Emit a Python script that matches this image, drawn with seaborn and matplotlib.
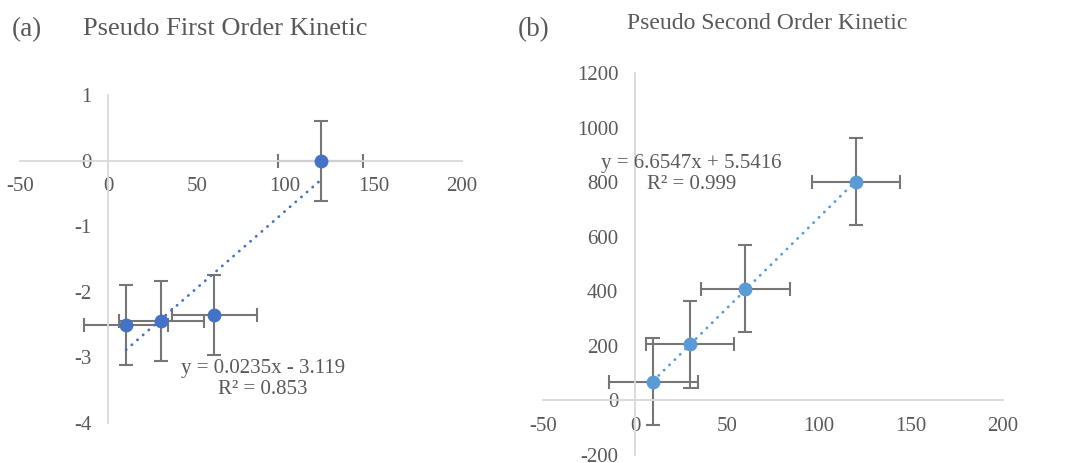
import numpy as np
import pandas as pd
import matplotlib
matplotlib.use("Agg")
import matplotlib.pyplot as plt
import seaborn as sns

# Contact time (min)
time_min = [10, 30, 60, 120]

# Pseudo first order: log(qe - qt)
pfo_y = [-2.51, -2.44, -2.356, 0.0]
pfo_slope, pfo_intercept = 0.0235, -3.119
pfo_r2 = 0.853

# Pseudo second order: t/qt
pso_y = [69.0, 205.0, 410.0, 802.2]
pso_slope, pso_intercept = 6.6547, 5.5416
pso_r2 = 0.999

x_ticks = [-50, 0, 50, 100, 150, 200]
pfo_y_ticks = [-4, -3, -2, -1, 0, 1]
pso_y_ticks = [-200, 0, 200, 400, 600, 800, 1000, 1200]

sns.set_theme(style="white")
plt.rcParams["font.family"] = ["Liberation Serif", "DejaVu Serif"]
plt.rcParams["axes.unicode_minus"] = False

TEXT = "#595959"
AXIS = "#D9D9D9"
ERR = "#767676"


def std_err(v):
    v = np.asarray(v, dtype=float)
    return v.std(ddof=1) / np.sqrt(len(v))


def draw_panel(ax, y, color, slope, intercept, r2, yticks, eq_pos):
    df = pd.DataFrame({"t": time_min, "y": y})
    xerr = std_err(df["t"])
    yerr = std_err(df["y"])
    ax.errorbar(df["t"], df["y"], xerr=xerr, yerr=yerr, fmt="none",
                ecolor=ERR, elinewidth=1.5, capsize=5, capthick=1.5, zorder=2)
    sns.scatterplot(data=df, x="t", y="y", ax=ax, color=color, s=100,
                    edgecolor=color, linewidth=0, zorder=3)
    # linear trendline over the sampled time range
    tx = np.array([min(time_min), max(time_min)], dtype=float)
    ax.plot(tx, slope * tx + intercept, color=color, lw=2.0,
            linestyle=(0, (0.1, 2.6)), dash_capstyle="round", zorder=4)
    sign = "+" if intercept >= 0 else "-"
    ax.text(eq_pos[0], eq_pos[1],
            f"y = {slope:g}x {sign} {abs(intercept):g}\nR² = {r2:.3f}",
            ha="center", va="center", multialignment="center",
            fontsize=15, color=TEXT, linespacing=1.15, zorder=5)

    ax.set_xlim(x_ticks[0], x_ticks[-1])
    ax.set_ylim(yticks[0], yticks[-1])
    ax.set_xticks(x_ticks)
    ax.set_yticks(yticks)
    ax.spines["left"].set_position(("data", 0))
    ax.spines["bottom"].set_position(("data", 0))
    for s in ("top", "right"):
        ax.spines[s].set_visible(False)
    for s in ("left", "bottom"):
        ax.spines[s].set_color(AXIS)
        ax.spines[s].set_linewidth(1.3)
    ax.tick_params(axis="both", length=0, labelsize=15, labelcolor=TEXT)
    ax.tick_params(axis="x", pad=12)
    ax.tick_params(axis="y", pad=12)
    ax.set_xlabel("")
    ax.set_ylabel("")
    ax.grid(False)
    ax.set_facecolor("none")


fig = plt.figure(figsize=(10.72, 4.63), dpi=100)
ax_a = fig.add_axes([20 / 1072, 1 - 423 / 463, 442 / 1072, 328 / 463])
ax_b = fig.add_axes([543 / 1072, 1 - 455 / 463, 460 / 1072, 382 / 463])

draw_panel(ax_a, pfo_y, "#4472C4", pfo_slope, pfo_intercept, pfo_r2,
           pfo_y_ticks, (87.5, -3.33))
draw_panel(ax_b, pso_y, "#5B9BD5", pso_slope, pso_intercept, pso_r2,
           pso_y_ticks, (30.6, 830))

fig.text(12 / 1072, 1 - 36 / 463, "(a)", fontsize=19.5, color=TEXT,
         ha="left", va="baseline")
fig.text(225 / 1072, 1 - 35 / 463, "Pseudo First Order Kinetic",
         fontsize=19, color=TEXT, ha="center", va="baseline")
fig.text(518 / 1072, 1 - 36 / 463, "(b)", fontsize=19.5, color=TEXT,
         ha="left", va="baseline")
fig.text(767 / 1072, 1 - 29 / 463, "Pseudo Second Order Kinetic",
         fontsize=17, color=TEXT, ha="center", va="baseline")

fig.savefig("out.png", dpi=100)
